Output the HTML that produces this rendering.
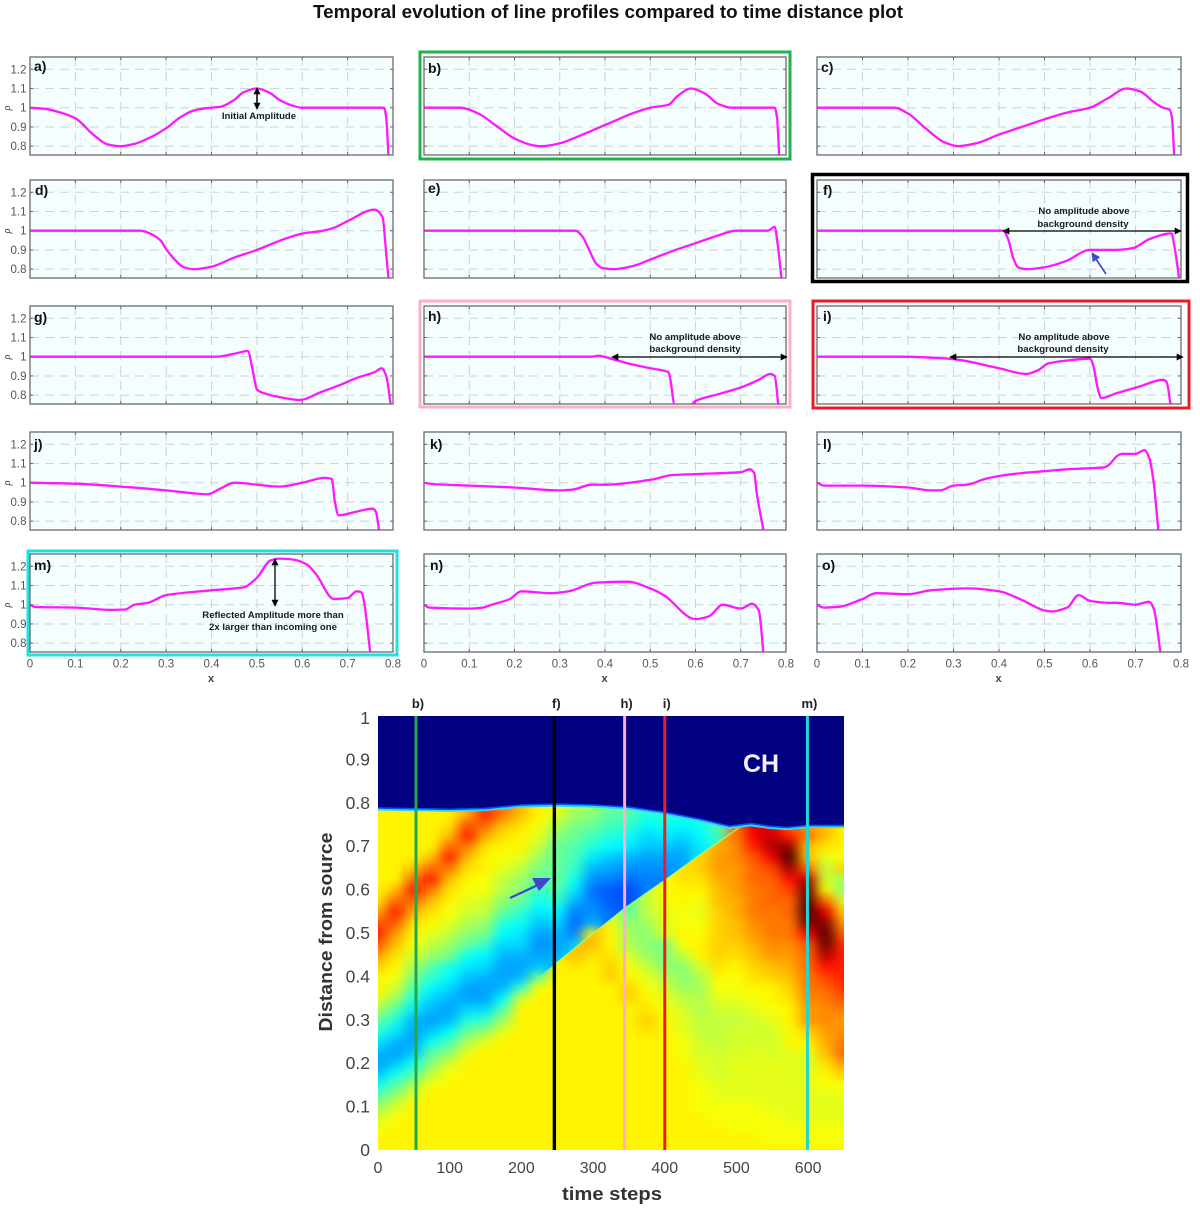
<!DOCTYPE html>
<html lang="en">
<head>
<meta charset="utf-8">
<title>Temporal evolution of line profiles</title>
<style>
html,body{margin:0;padding:0;background:#fff;}
svg{display:block;font-family:"Liberation Sans",sans-serif;filter:blur(0.35px);}
.lbl{font-size:14px;font-weight:bold;fill:#111;}
.note{font-size:9.6px;font-weight:bold;fill:#1a1a1a;text-anchor:middle;}
</style>
</head>
<body>
<svg id="fig" xmlns="http://www.w3.org/2000/svg" width="1200" height="1210" viewBox="0 0 1200 1210">
<defs>
<filter id="heat-blur" filterUnits="userSpaceOnUse" x="330" y="670" width="560" height="520" color-interpolation-filters="sRGB"><feGaussianBlur stdDeviation="6.5 4"/></filter>
<clipPath id="heat-clip"><rect x="378" y="716" width="466" height="434"/></clipPath>
<marker id="ah" viewBox="0 0 10 10" refX="9" refY="5" markerWidth="9" markerHeight="7" orient="auto-start-reverse" markerUnits="userSpaceOnUse"><path d="M0 0L10 5L0 10z" fill="#000"/></marker>
<marker id="ahb" viewBox="0 0 10 10" refX="9" refY="5" markerWidth="10" markerHeight="9" orient="auto" markerUnits="userSpaceOnUse"><path d="M0 0L10 5L0 10z" fill="#3f48cc"/></marker>
</defs>

<text x="608" y="18" text-anchor="middle" font-size="18" font-weight="bold" fill="#111" textLength="590" lengthAdjust="spacingAndGlyphs">Temporal evolution of line profiles compared to time distance plot</text>

<rect x="420" y="52" width="370" height="107" fill="none" stroke="#22b14c" stroke-width="3"/>
<rect x="812.5" y="174.5" width="375" height="107" fill="none" stroke="#000" stroke-width="3.5"/>
<rect x="420" y="301" width="370" height="106" fill="none" stroke="#ffaec9" stroke-width="3"/>
<rect x="813" y="301" width="376" height="107" fill="none" stroke="#ed1c24" stroke-width="3"/>
<rect x="28" y="551" width="369" height="104" fill="none" stroke="#21e0e0" stroke-width="3"/>

<g id="panels"></g>

<g>
<text class="lbl" x="34" y="71">a)</text>
<text class="lbl" x="428" y="73">b)</text>
<text class="lbl" x="821" y="72">c)</text>
<text class="lbl" x="35" y="195">d)</text>
<text class="lbl" x="428" y="193">e)</text>
<text class="lbl" x="823" y="195">f)</text>
<text class="lbl" x="34" y="322">g)</text>
<text class="lbl" x="428" y="321">h)</text>
<text class="lbl" x="823" y="321">i)</text>
<text class="lbl" x="34" y="449">j)</text>
<text class="lbl" x="430" y="449">k)</text>
<text class="lbl" x="823" y="449">l)</text>
<text class="lbl" x="34" y="570">m)</text>
<text class="lbl" x="430" y="570">n)</text>
<text class="lbl" x="822" y="570">o)</text>
</g>

<g>
<line x1="257" y1="88" x2="257" y2="109" stroke="#000" stroke-width="1.5" marker-start="url(#ah)" marker-end="url(#ah)"/>
<text class="note" x="259" y="119">Initial Amplitude</text>

<line x1="1003" y1="231" x2="1181" y2="231" stroke="#000" stroke-width="1.3" marker-start="url(#ah)" marker-end="url(#ah)"/>
<text class="note" x="1084" y="214">No amplitude above</text>
<text class="note" x="1083" y="227">background density</text>
<line x1="1106" y1="274" x2="1092" y2="253" stroke="#3f48cc" stroke-width="1.6" marker-end="url(#ahb)"/>

<line x1="612" y1="357" x2="787" y2="357" stroke="#000" stroke-width="1.3" marker-start="url(#ah)" marker-end="url(#ah)"/>
<text class="note" x="695" y="340">No amplitude above</text>
<text class="note" x="695" y="352">background density</text>

<line x1="950" y1="357" x2="1183" y2="357" stroke="#000" stroke-width="1.3" marker-start="url(#ah)" marker-end="url(#ah)"/>
<text class="note" x="1064" y="340">No amplitude above</text>
<text class="note" x="1063" y="352">background density</text>

<line x1="275" y1="559" x2="275" y2="606" stroke="#000" stroke-width="1.3" marker-start="url(#ah)" marker-end="url(#ah)"/>
<text class="note" x="273" y="618">Reflected Amplitude more than</text>
<text class="note" x="273" y="630">2x larger than incoming one</text>
</g>

<g id="heatmap">
<g clip-path="url(#heat-clip)">
<g clip-path="url(#shock-below)"><g id="heat-cells-below" filter="url(#heat-blur)"></g></g>
<g clip-path="url(#shock-above)"><g id="heat-cells-above" filter="url(#heat-blur)"></g></g>
<g id="heat-top"></g>
</g>
<g id="heat-axes"></g>
<g id="heat-markers"></g>
<text x="761" y="772" text-anchor="middle" font-size="25" font-weight="bold" fill="#f4f0f4">CH</text>
<line x1="510" y1="898" x2="540" y2="884" stroke="#3f48cc" stroke-width="2.2"/>
<polygon points="551,878 532,878 539,891" fill="#3f48cc"/>
<text transform="translate(332,932) rotate(-90)" text-anchor="middle" font-size="18" font-weight="bold" fill="#333" textLength="199" lengthAdjust="spacingAndGlyphs">Distance from source</text>
<text x="612" y="1200" text-anchor="middle" font-size="18" font-weight="bold" fill="#333" textLength="100" lengthAdjust="spacingAndGlyphs">time steps</text>
</g>
</svg>

<script>
// ---------- line profile data (x position, density) ----------
const aX=[0,.03,.06,.1,.14,.17,.2,.23,.26,.3,.33,.36,.385,.42,.45,.47,.5,.53,.55,.58,.6,.78,.785,.79];
const aY=[1,.995,.98,.945,.859,.81,.8,.812,.84,.893,.948,.985,.997,1.005,1.04,1.08,1.1,1.075,1.04,1.01,1,1,.95,.75];
const bX=[0,.08,.12,.16,.2,.24,.26,.3,.34,.38,.42,.46,.5,.54,.56,.59,.62,.65,.68,.775,.78,.785];
const bY=[1,1,.97,.905,.84,.805,.8,.815,.85,.89,.93,.97,1,1.015,1.06,1.1,1.075,1.02,1,1,.95,.75];
const cX=[0,.17,.2,.24,.28,.31,.35,.4,.45,.5,.55,.6,.64,.68,.71,.74,.76,.775,.78,.785];
const cY=[1,1,.97,.89,.82,.8,.815,.86,.9,.94,.975,1,1.05,1.1,1.085,1.03,1,.99,.95,.75];
const dX=[0,.243,.26,.2875,.3,.317,.339,.361,.4,.45,.5,.553,.6,.645,.67,.7,.76,.777,.785,.79];
const dY=[1,1,.99,.95,.905,.855,.81,.8,.813,.86,.9,.95,.985,1,1.015,1.05,1.11,1.07,.88,.755];
const eX=[0,.335,.35,.365,.38,.395,.42,.46,.5,.55,.6,.65,.69,.73,.76,.775,.782,.79];
const eY=[1,1,.97,.9,.83,.805,.8,.815,.85,.895,.935,.975,1,1,1,1.02,.92,.75];
const fX=[0,.409,.42,.431,.442,.46,.5,.548,.6,.658,.695,.731,.779,.786,.796];
const fY=[1,1,.957,.86,.81,.8,.81,.843,.9,.9,.91,.957,.986,.913,.75];
const gX=[0,.41,.45,.48,.49,.5,.51,.55,.595,.64,.68,.72,.76,.775,.785,.795];
const gY=[1,1,1.015,1.03,.94,.83,.815,.79,.775,.815,.85,.89,.92,.94,.9,.75];
const hX=[0,.37,.385,.42,.46,.5,.54,.543,.555,.585,.6,.65,.7,.74,.765,.775,.783];
const hY=[1,1,1.005,.985,.96,.94,.92,.9,.74,.74,.77,.805,.84,.88,.91,.9,.75];
const iX=[0,.18,.29,.4,.46,.486,.508,.548,.6,.606,.618,.625,.658,.709,.76,.768,.777];
const iY=[1,1,.99,.94,.91,.93,.965,.98,.99,.965,.825,.785,.81,.845,.88,.87,.755];
const jX=[0,.1,.2,.3,.36,.39,.42,.45,.5,.55,.6,.65,.665,.672,.68,.72,.755,.762,.77];
const jY=[1,.995,.98,.96,.945,.94,.97,1,.99,.98,1,1.025,1.02,.9,.83,.85,.865,.85,.74];
const kX=[0,.02,.1,.2,.3,.33,.37,.4,.5,.55,.6,.7,.72,.73,.735,.75];
const kY=[1,.993,.985,.975,.96,.965,.99,.99,1.015,1.04,1.045,1.055,1.07,1.05,.95,.755];
const lX=[0,.015,.1,.2,.25,.27,.3,.33,.37,.4,.45,.5,.55,.63,.64,.66,.67,.7,.72,.73,.74,.75];
const lY=[1,.985,.985,.975,.96,.96,.985,.99,1.02,1.035,1.05,1.06,1.07,1.08,1.09,1.14,1.15,1.15,1.17,1.13,1,.755];
const mX=[0,.012,.1,.18,.21,.23,.26,.3,.4,.47,.5,.53,.55,.58,.61,.63,.67,.7,.72,.73,.735,.75];
const mY=[1,.988,.985,.973,.975,1,1.01,1.05,1.075,1.09,1.14,1.23,1.24,1.235,1.21,1.16,1.03,1.035,1.07,1.065,1.03,.75];
const nX=[0,.012,.1,.13,.15,.19,.215,.28,.32,.38,.45,.5,.53,.6,.63,.66,.7,.725,.74,.75];
const nY=[1,.985,.98,.985,1,1.03,1.07,1.06,1.07,1.115,1.12,1.085,1.05,.925,.94,1,.98,1.005,.97,.75];
const oX=[0,.015,.05,.1,.13,.2,.25,.33,.4,.45,.5,.515,.55,.575,.6,.64,.66,.7,.73,.74,.755];
const oY=[1,.985,.99,1.03,1.06,1.055,1.075,1.085,1.07,1.025,.97,.965,.985,1.05,1.02,1.01,1.01,1,1.015,.98,.75];
const panelNames=['a','b','c','d','e','f','g','h','i','j','k','l','m','n','o'];
const panelXs=[aX,bX,cX,dX,eX,fX,gX,hX,iX,jX,kX,lX,mX,nX,oX];
const panelYs=[aY,bY,cY,dY,eY,fY,gY,hY,iY,jY,kY,lY,mY,nY,oY];
const panelXTicks=[0,0.1,0.2,0.3,0.4,0.5,0.6,0.7,0.8];
const panelXTickLabels=['0','0.1','0.2','0.3','0.4','0.5','0.6','0.7','0.8'];
const panelYTicks=[1.2,1.1,1,0.9,0.8];
const panelYTickLabels=['1.2','1.1','1','0.9','0.8'];

// ---------- time-distance heatmap data (density x100, one column per time step, bottom to top) ----------
const heatTimes=[0,25,50,75,100,125,150,175,200,225,250,275,300,325,350,375,400,425,450,475,500,525,550,575,600,625,650];
const heatDistances=[0,.025,.05,.075,.1,.125,.15,.175,.2,.225,.25,.275,.3,.325,.35,.375,.4,.425,.45,.475,.5,.525,.55,.575,.6,.625,.65,.675,.7,.725,.75,.775,.8];
const heatColumns=[
[100,100,99,97,94,90,86,82,80,81,84,88,91,95,98,100,100,102,105,109,112,109,104,101,100,100,100,100,100,100,100,100,100],
[100,100,100,99,97,94,90,86,82,80,81,84,87,90,94,97,99,100,101,103,105,109,112,108,103,100,100,100,100,100,100,100,100],
[100,100,100,100,100,98,95,90,86,82,80,80,81,84,87,90,92,95,97,99,100,101,104,108,112,108,103,100,100,100,100,100,100],
[100,100,100,100,100,100,99,96,93,90,86,82,80,81,83,85,88,90,94,96,98,100,101,103,107,112,108,103,100,100,100,100,100],
[100,100,100,100,100,100,100,99,97,93,89,85,81,80,81,83,85,87,92,94,96,98,99,100,101,103,107,112,108,103,101,100,100],
[100,100,100,100,100,100,100,100,100,98,95,91,87,83,80,80,82,84,86,91,93,95,97,98,99,100,101,103,107,112,109,104,102],
[100,100,100,100,100,100,100,100,100,100,98,93,88,83,80,80,81,83,85,88,92,94,96,97,99,99,100,100,101,104,108,112,108],
[100,100,100,100,100,100,100,100,100,100,100,98,94,90,85,81,80,80,81,83,85,87,91,93,95,96,98,99,100,101,103,107,107],
[100,100,100,100,100,100,100,100,100,100,100,100,100,100,97,88,81,80,81,83,84,86,88,91,93,94,96,98,100,100,101,103,103],
[100,100,100,100,100,100,100,100,100,100,100,100,100,100,100,99,91,82,80,79,80,82,84,86,88,90,92,94,96,98,99,100,100],
[100,100,100,100,100,100,100,100,100,100,100,100,100,100,100,100,100,100,81,80,81,83,85,88,90,91,91,91,91,93,95,98,99],
[100,100,100,100,100,100,100,100,100,100,100,100,100,100,100,100,100,101,103,82,78,77,78,81,84,86,88,89,90,91,92,94,95],
[100,100,100,100,100,100,100,100,100,100,100,100,100,100,100,100,100,100,101,103,100,81,79,78,77,79,81,84,87,89,91,93,94],
[100,100,100,100,100,100,100,100,100,100,100,100,100,100,100,100,102,102,101,100,100,98,77,76,76,78,80,82,85,87,89,90,91],
[100,100,100,100,100,100,100,100,100,100,100,100,100,100,102,102,100,99,97,95,94,93,90,75,75,77,79,81,84,86,88,90,91],
[100,100,100,100,100,100,100,100,100,100,100,101,102,101,100,99,98,96,94,93,93,94,96,96,78,78,79,80,82,83,85,87,88],
[100,100,100,100,100,100,100,100,100,100,100,100,100,99,98,97,95,93,92,92,97,98,98,99,99,78,79,80,82,84,86,88,88],
[100,100,100,100,100,100,100,100,100,99,99,98,98,97,96,94,93,93,96,99,100,99,99,100,100,101,101,80,81,83,85,86,86],
[100,100,100,100,99,99,99,98,98,97,97,96,96,95,95,94,95,97,100,100,99,99,98,99,100,101,102,102,84,85,86,86,86],
[100,100,100,99,99,98,98,97,97,97,96,96,96,97,98,99,100,101,102,102,102,102,102,103,103,104,105,105,104,88,90,90,90],
[100,100,99,99,99,98,98,98,98,97,97,97,96,97,98,99,99,100,101,102,103,103,104,104,105,105,105,106,106,107,107,108,108],
[100,100,99,99,99,98,98,98,98,98,97,97,97,98,99,100,101,102,103,104,105,106,107,107,107,108,108,109,112,114,116,114,114],
[100,99,99,99,98,98,98,98,98,97,97,97,98,99,100,100,102,103,105,106,107,107,107,108,108,108,110,114,118,117,114,112,112],
[100,99,99,98,98,98,98,98,98,98,100,99,100,100,101,102,103,104,105,106,107,107,108,108,110,113,119,124,120,112,108,106,106],
[100,99,99,98,98,98,98,98,97,98,100,102,105,105,106,107,107,108,108,109,114,122,124,123,122,118,108,103,103,107,105,105,105],
[100,99,99,98,98,98,99,100,101,103,104,105,106,106,107,108,110,113,118,122,123,120,115,108,100,97,96,98,101,103,103,103,103],
[100,99,99,98,98,98,99,102,105,108,107,106,105,107,109,111,112,112,112,111,108,105,102,97,93,94,102,99,100,100,100,100,100]
];
const shockTimes=[150,200,225,245,344,400,449,505,525];
const shockDistances=[.30,.37,.40,.426,.557,.622,.68,.744,.755];
const boundaryTimes=[0,100,150,200,250,300,350,400,450,490,520,545,570,600,650];
const boundaryDistances=[.788,.785,.787,.795,.797,.795,.79,.778,.762,.746,.752,.746,.743,.748,.748];
const heatXTicks=[0,100,200,300,400,500,600];
const heatXTickLabels=['0','100','200','300','400','500','600'];
const heatYTicks=[0,.1,.2,.3,.4,.5,.6,.7,.8,.9,1];
const heatYTickLabels=['0','0.1','0.2','0.3','0.4','0.5','0.6','0.7','0.8','0.9','1'];
const markerTimes=[53,246,344,400,599];
const markerLabels=['b)','f)','h)','i)','m)'];
const markerColors=['#22a84c','#000000','#ffaec9','#ed1c24','#21d6d6'];

// ---------- helpers ----------
const NS='http://www.w3.org/2000/svg';
function make(tag,attrs,parent){
  const e=document.createElementNS(NS,tag);
  for(const k in attrs)e.setAttribute(k,attrs[k]);
  parent.appendChild(e);
  return e;
}
// monotone cubic path through pixel points (no overshoot at the sharp edges)
function smoothPath(px,py){
  const n=px.length, s=[], m=[];
  for(let i=0;i<n-1;i++)s.push((py[i+1]-py[i])/Math.max(px[i+1]-px[i],0.01));
  m[0]=s[0];m[n-1]=s[n-2];
  for(let i=1;i<n-1;i++)m[i]=(s[i-1]*s[i]<=0)?0:2*s[i-1]*s[i]/(s[i-1]+s[i]);
  let d='M'+px[0].toFixed(1)+' '+py[0].toFixed(1);
  for(let i=0;i<n-1;i++){
    const h=(px[i+1]-px[i])/3;
    d+='C'+(px[i]+h).toFixed(1)+' '+(py[i]+m[i]*h).toFixed(1)+' '+(px[i+1]-h).toFixed(1)+' '+(py[i+1]-m[i+1]*h).toFixed(1)+' '+px[i+1].toFixed(1)+' '+py[i+1].toFixed(1);
  }
  return d;
}

// ---------- profile panels ----------
const colLeft=[30,424,817];
const colWidth=[363,362,364];
const rowTop=[57,180,306,432,554];
const panelH=98;
const rhoMax=1.264, rhoMin=0.754, xMax=0.8;
const panelsRoot=document.getElementById('panels');
const clipDefs=document.querySelector('defs');

panelNames.forEach(function(name,idx){
  const col=idx%3, row=Math.floor(idx/3);
  const L=colLeft[col], W=colWidth[col], T=rowTop[row], H=panelH;
  const sx=function(v){return L+v/xMax*W;};
  const sy=function(v){return T+(rhoMax-v)/(rhoMax-rhoMin)*H;};

  const g=make('g',{},panelsRoot);
  
  

  const cp=make('clipPath',{id:'clip-'+name},clipDefs);
  make('rect',{x:L,y:T,width:W,height:H},cp);

  const bg=make('rect',{x:L,y:T,width:W,height:H,fill:'#f4fdff'},g);
  
  

  panelXTicks.forEach(function(v,i){
    const X=sx(v);
    if(i>0&&i<panelXTicks.length-1){
      const gl=make('line',{x1:X,x2:X,y1:T,y2:T+H,stroke:'#cfd3d3','stroke-width':1,'stroke-dasharray':'9 6'},g);
      
      
      make('line',{x1:X,x2:X,y1:T,y2:T+3,stroke:'#666','stroke-width':1},g);
      make('line',{x1:X,x2:X,y1:T+H-3,y2:T+H,stroke:'#666','stroke-width':1},g);
    }
    if(row===4){
      const tl=make('text',{x:X,y:T+H+15.5,'text-anchor':'middle','font-size':11.5,fill:'#555'},g);
      tl.textContent=panelXTickLabels[i];
      
      
    }
  });
  panelYTicks.forEach(function(v,i){
    const Y=sy(v);
    const gl=make('line',{x1:L,x2:L+W,y1:Y,y2:Y,stroke:'#cfd3d3','stroke-width':1,'stroke-dasharray':'9 6'},g);
    
    
    make('line',{x1:L,x2:L+3,y1:Y,y2:Y,stroke:'#666','stroke-width':1},g);
    make('line',{x1:L+W-3,x2:L+W,y1:Y,y2:Y,stroke:'#666','stroke-width':1},g);
    if(col===0){
      const tl=make('text',{x:L-3.5,y:Y+4,'text-anchor':'end','font-size':11.5,fill:'#555'},g);
      tl.textContent=panelYTickLabels[i];
      
      
    }
  });
  if(col===0){
    const yl=make('text',{transform:'translate(10,'+(T+51)+') rotate(-90)','text-anchor':'middle','font-size':10,'font-style':'italic','font-family':'"Liberation Serif",serif',fill:'#333'},g);
    yl.textContent='\u03c1';
    
    
  }
  if(row===4){
    const xl=make('text',{x:L+W/2-0.5,y:T+H+30,'text-anchor':'middle','font-size':11,'font-weight':'bold',fill:'#444'},g);
    xl.textContent='x';
    
    
  }

  const xs=panelXs[idx], ys=panelYs[idx];
  const d=smoothPath(xs.map(sx),ys.map(sy));
  const line=make('path',{d:d,fill:'none',stroke:'#ff18ff','stroke-width':2.3,'stroke-linejoin':'round','clip-path':'url(#clip-'+name+')'},g);
  
  

  const fr=make('rect',{x:L,y:T,width:W,height:H,fill:'none',stroke:'#6b6b6b','stroke-width':1.3},g);
  
  
});

// ---------- heatmap ----------
const hL=378,hR=844,hT=716,hB=1150,hTimeMax=650;
function xT(t){return hL+t/hTimeMax*(hR-hL);}
function yD(d){return hB-d*(hB-hT);}
function jetChannel(v){return Math.max(0,Math.min(1,v));}
function jet(c){
  const r=jetChannel(1.5-Math.abs(4*c-3));
  const g=jetChannel(1.5-Math.abs(4*c-2));
  const b=jetChannel(1.5-Math.abs(4*c-1));
  return 'rgb('+Math.round(r*255)+','+Math.round(g*255)+','+Math.round(b*255)+')';
}
function densityColor(v){return jet(0.635+1.75*(v/100-1));}
function shockAt(t){
  for(let i=0;i<shockTimes.length-1;i++){
    if(t>=shockTimes[i]&&t<=shockTimes[i+1]){
      return shockDistances[i]+(shockDistances[i+1]-shockDistances[i])*(t-shockTimes[i])/(shockTimes[i+1]-shockTimes[i]);
    }
  }
  return null;
}
// clip regions on either side of the shock front, so the discontinuity stays crisp
const shockPts=shockTimes.map(function(t,i){return xT(t).toFixed(1)+','+yD(shockDistances[i]).toFixed(1);});
const clipBelow=make('clipPath',{id:'shock-below'},clipDefs);
make('polygon',{points:(hL-60)+','+(hB+60)+' '+(hL-60)+','+yD(shockDistances[0]-0.25)+' '+shockPts.join(' ')+' '+(hR+60)+','+yD(shockDistances[shockDistances.length-1])+' '+(hR+60)+','+(hB+60)},clipBelow);
const clipAbove=make('clipPath',{id:'shock-above'},clipDefs);
make('polygon',{points:(hL-60)+','+(hT-60)+' '+(hL-60)+','+yD(shockDistances[0]-0.25)+' '+shockPts.join(' ')+' '+(hR+60)+','+yD(shockDistances[shockDistances.length-1])+' '+(hR+60)+','+(hT-60)},clipAbove);

function drawLayer(root,isBelow){
  heatColumns.forEach(function(col,i){
    const t=heatTimes[i];
    let x0=xT(t-12.5)-0.5, x1=xT(t+12.5)+0.5;
    if(i===0)x0-=30;
    if(i===heatColumns.length-1)x1+=30;
    const s=(t>=250&&t<=500)?shockAt(t):null;
    let split=-1;
    if(s!==null){
      heatDistances.forEach(function(d,j){if(d<s)split=j;});
    }
    col.forEach(function(v,j){
      const d=heatDistances[j];
      let value=v;
      if(split>=0){
        if(isBelow&&j>split)value=col[split];
        if(!isBelow&&j<=split)value=col[split+1];
      }
      let y0=yD(d+0.0125)-0.5, y1=yD(d-0.0125)+0.5;
      if(j===0)y1+=30;
      if(j===col.length-1)y0-=30;
      const cell=make('rect',{x:x0.toFixed(1),y:y0.toFixed(1),width:(x1-x0).toFixed(1),height:(y1-y0).toFixed(1),fill:densityColor(value)},root);
      
      
    });
  });
}
drawLayer(document.getElementById('heat-cells-below'),true);
drawLayer(document.getElementById('heat-cells-above'),false);

const topRoot=document.getElementById('heat-top');
const shockEdge=make('polyline',{points:shockPts.slice(3).join(' '),fill:'none',stroke:'#a0ff70','stroke-width':1.4,'stroke-opacity':0.8},topRoot);



const topPts=boundaryTimes.map(function(t,i){return xT(t).toFixed(1)+','+yD(boundaryDistances[i]).toFixed(1);});
const edgeGlow=make('polyline',{points:boundaryTimes.map(function(t,i){return xT(t).toFixed(1)+','+(yD(boundaryDistances[i])+1.5).toFixed(1);}).join(' '),fill:'none',stroke:'#30d8ff','stroke-width':2.2},topRoot);


const navy=make('polygon',{points:hL+','+hT+' '+topPts.join(' ')+' '+hR+','+hT,fill:'#000080'},topRoot);


const edge=make('polyline',{points:topPts.join(' '),fill:'none',stroke:'#0a50f0','stroke-width':1.6},topRoot);



const axesRoot=document.getElementById('heat-axes');
heatXTicks.forEach(function(t,i){
  const tl=make('text',{x:xT(t),y:1173,'text-anchor':'middle','font-size':16,fill:'#444'},axesRoot);
  tl.textContent=heatXTickLabels[i];
  
  
});
heatYTicks.forEach(function(d,i){
  const tl=make('text',{x:370,y:yD(d)+(i===heatYTicks.length-1?8:6),'text-anchor':'end','font-size':17.5,fill:'#444'},axesRoot);
  tl.textContent=heatYTickLabels[i];
  
  
});

const markersRoot=document.getElementById('heat-markers');
markerTimes.forEach(function(t,i){
  const ml=make('line',{x1:xT(t),x2:xT(t),y1:hT,y2:hB,stroke:markerColors[i],'stroke-width':i===1?3.4:3},markersRoot);
  
  
  const tx=make('text',{x:xT(t)+2,y:708,'text-anchor':'middle','font-size':13,'font-weight':'bold',fill:'#222'},markersRoot);
  tx.textContent=markerLabels[i];
  
  
});
</script>
</body>
</html>
